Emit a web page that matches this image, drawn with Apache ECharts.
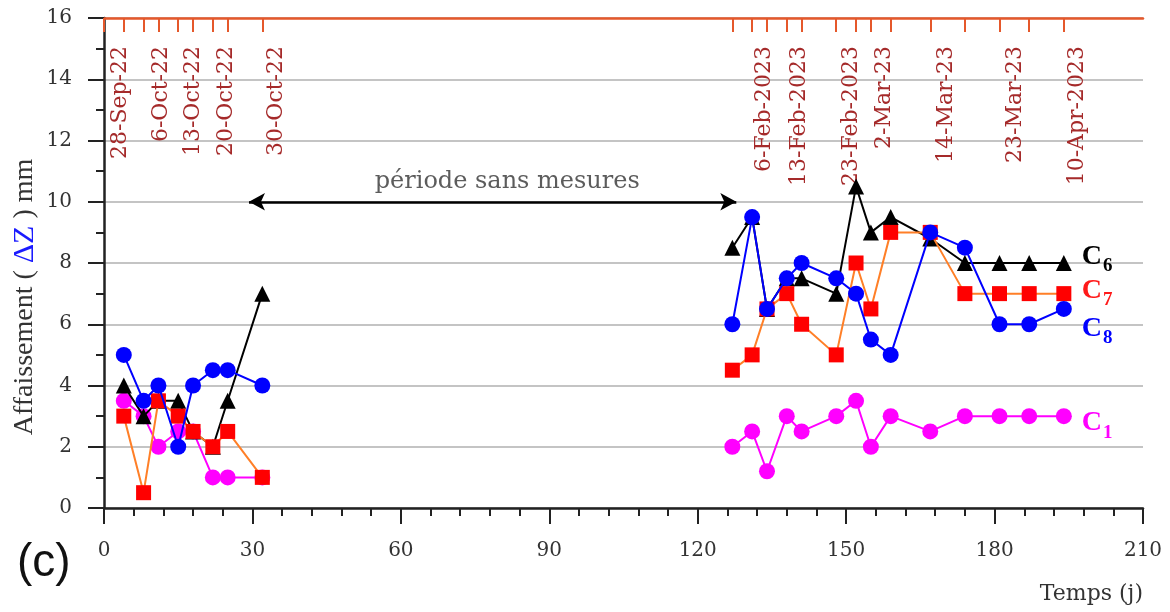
<!DOCTYPE html>
<html>
<head>
<meta charset="utf-8">
<script src="https://cdn.jsdelivr.net/npm/echarts@6/dist/echarts.min.js"></script>
<style>html,body{margin:0;padding:0;background:#fff;}#chart{width:1170px;height:612px;}</style>
</head>
<body>
<div id="chart"></div>
<script>
// ---- data ----
const daysLeft = [4, 8, 11, 15, 18, 22, 25, 32];
const daysRight = [127, 131, 134, 138, 141, 148, 152, 155, 159, 167, 174, 181, 187, 194];
const c6Left = [4, 3, 3.5, 3.5, 2.5, 2, 3.5, 7];
const c6Right = [8.5, 9.5, 6.5, 7.5, 7.5, 7, 10.5, 9, 9.5, 8.8, 8, 8, 8, 8];
const c7Left = [3, 0.5, 3.5, 3, 2.5, 2, 2.5, 1];
const c7Right = [4.5, 5, 6.5, 7, 6, 5, 8, 6.5, 9, 9, 7, 7, 7, 7];
const c8Left = [5, 3.5, 4, 2, 4, 4.5, 4.5, 4];
const c8Right = [6, 9.5, 6.5, 7.5, 8, 7.5, 7, 5.5, 5, 9, 8.5, 6, 6, 6.5];
const c1Left = [3.5, 3, 2, 2.5, 2.5, 1, 1, 1];
const c1Right = [2, 2.5, 1.2, 3, 2.5, 3, 3.5, 2, 3, 2.5, 3, 3, 3, 3];
const topTickDays = [0].concat(daysLeft, daysRight);
const dateLabelDays = [3.2, 11.6, 18, 24.8, 34.9, 133.5, 140.6, 151.1, 157.8, 170.3, 184.1, 196.8];
const dateLabels = ['28-Sep-22', '6-Oct-22', '13-Oct-22', '20-Oct-22', '30-Oct-22', '6-Feb-2023', '13-Feb-2023', '23-Feb-2023', '2-Mar-23', '14-Mar-23', '23-Mar-23', '10-Apr-2023'];
const arrowStart = 29.3, arrowEnd = 127.8, arrowLevel = 10;
const annotationPos = [81.5, 10.65];
const annotationText = 'période sans mesures';
const xTicks = { min: 0, max: 210, interval: 30 };
const yTicks = { min: 0, max: 16, interval: 2 };

const pairs = (x, y) => x.map((d, i) => [d, y[i]]);
const serif = 'DejaVu Serif';

const curves = [
  { name: 'C1', sub: '1', left: c1Left, right: c1Right, line: '#ff00ff', mark: '#ff00ff', symbol: 'circle', size: 16, z: 2, dy: 8 },
  { name: 'C6', sub: '6', left: c6Left, right: c6Right, line: '#000000', mark: '#000000', symbol: 'triangle', size: 16, z: 3, dy: -5 },
  { name: 'C7', sub: '7', left: c7Left, right: c7Right, line: '#ff7f27', mark: '#ff0000', symbol: 'rect', size: 15, z: 4, dy: -2 },
  { name: 'C8', sub: '8', left: c8Left, right: c8Right, line: '#0000ff', mark: '#0000ff', symbol: 'circle', size: 16, z: 5, dy: 21 }
];

const series = [];
curves.forEach(c => {
  const base = {
    type: 'line', z: c.z, symbol: c.symbol, symbolSize: c.size,
    lineStyle: { color: c.line, width: 2 },
    itemStyle: { color: c.mark, borderWidth: 0 },
    emphasis: { disabled: true }
  };
  const txt = c.mark === '#ff0000' ? '#ff1a1a' : c.mark;
  series.push(Object.assign({}, base, { name: c.name + 'L', data: pairs(daysLeft, c.left) }));
  series.push(Object.assign({}, base, {
    name: c.name, data: pairs(daysRight, c.right),
    endLabel: {
      show: true, distance: 0, offset: [18, c.dy],
      formatter: '{c|C}{s|' + c.sub + '}',
      rich: {
        c: { fontFamily: 'Liberation Serif', fontWeight: 'bold', fontSize: 28, color: txt, lineHeight: 30, verticalAlign: 'top' },
        s: { fontFamily: 'Liberation Serif', fontWeight: 'bold', fontSize: 19, color: txt, lineHeight: 18, verticalAlign: 'top', padding: [14, 0, 0, 1] }
      }
    }
  }));
});

series.push({
  type: 'scatter', name: 'annot', symbolSize: 0, z: 6,
  data: [annotationPos],
  label: { show: true, position: 'inside', formatter: annotationText, fontFamily: serif, fontSize: 24, color: '#333' },
  markLine: {
    silent: true, symbol: ['arrow', 'arrow'], symbolSize: [13, 16],
    lineStyle: { color: '#000', width: 2.5, type: 'solid' },
    label: { show: false },
    data: [[{ coord: [arrowStart, arrowLevel] }, { coord: [arrowEnd, arrowLevel] }]]
  }
});

const chart = echarts.init(document.getElementById('chart'), null, { renderer: 'canvas' });
chart.setOption({
  animation: false,
  backgroundColor: '#fff',
  grid: { left: 104, right: 27, top: 18, bottom: 104, containLabel: false, outerBoundsMode: 'none' },
  xAxis: [{
    type: 'value', position: 'bottom', min: xTicks.min, max: xTicks.max, interval: xTicks.interval,
    axisLine: { onZero: false, lineStyle: { color: '#222', width: 2.5 } },
    axisTick: { show: true, length: 16, lineStyle: { color: '#222', width: 2 } },
    minorTick: { show: true, splitNumber: 5, length: 8, lineStyle: { color: '#222', width: 2 } },
    axisLabel: { margin: 33, fontFamily: serif, fontSize: 20, color: '#333' },
    splitLine: { show: false },
    name: 'Temps (j)', nameLocation: 'end', nameGap: 0, nameMoveOverlap: false,
    nameTextStyle: { fontFamily: serif, fontSize: 22, color: '#333', align: 'right', verticalAlign: 'top', padding: [75, 0, 0, 0] }
  }, {
    type: 'value', position: 'top', min: xTicks.min, max: xTicks.max,
    axisLine: { onZero: false, lineStyle: { color: '#e5582b', width: 2.5 } },
    axisTick: { show: true, inside: true, length: 14, customValues: topTickDays, lineStyle: { color: '#e5582b', width: 2 } },
    axisLabel: {
      show: true, inside: true, rotate: -90, margin: 28, customValues: dateLabelDays,
      fontFamily: serif, fontSize: 22, color: '#a52a2a',
      formatter: v => { const i = dateLabelDays.indexOf(v); return i >= 0 ? dateLabels[i] : ''; }
    },
    splitLine: { show: false }
  }],
  yAxis: {
    type: 'value', min: yTicks.min, max: yTicks.max, interval: yTicks.interval,
    axisLine: { show: true, onZero: false, lineStyle: { color: '#222', width: 2.5 } },
    axisTick: { show: true, length: 16, lineStyle: { color: '#222', width: 2 } },
    minorTick: { show: true, splitNumber: 2, length: 8, lineStyle: { color: '#222', width: 2 } },
    axisLabel: { margin: 32, fontFamily: serif, fontSize: 20, color: '#333' },
    splitLine: { show: true, lineStyle: { color: '#c4c4c4', width: 2 } },
    name: '{a|Affaissement ( }{b|ΔZ}{a| ) mm}', nameLocation: 'middle', nameGap: 64, nameMoveOverlap: false,
    nameTextStyle: {
      padding: [0, 68, 0, 0],
      rich: {
        a: { fontFamily: 'Liberation Serif', fontSize: 28, color: '#333' },
        b: { fontFamily: 'Liberation Serif', fontSize: 30, color: '#1a1aff' }
      }
    }
  },
  graphic: [{ type: 'text', left: 17, top: 540, style: { text: '(c)', fontFamily: 'Liberation Sans', fontSize: 46, fill: '#111' } }],
  series: series
});
</script>
</body>
</html>
